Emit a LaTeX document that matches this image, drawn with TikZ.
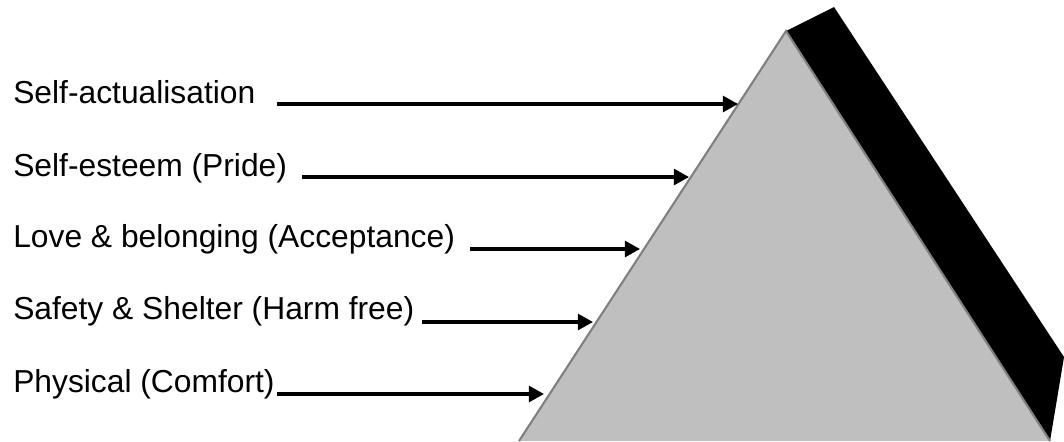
\documentclass[tikz,border=0pt]{standalone}
\usepackage{fontspec}
\setmainfont{Liberation Sans}
\usetikzlibrary{arrows.meta}
\begin{document}
\begin{tikzpicture}[x=0.025cm,y=-0.025cm,
  level/.style={anchor=base west,inner sep=0pt,font=\fontsize{22.6}{27}\selectfont},
  pointer/.style={line width=2.2pt,-{Triangle[length=0.38cm,width=0.4cm]}}]
  \useasboundingbox (0,0) rectangle (1064,441);
  \clip (0,0) rectangle (1064,441);
  \fill[black] (786,31) -- (834,7) -- (1064,357) -- (1050,441) -- cycle;
  \filldraw[fill=black!25,draw=black!50,line width=1.5pt] (519,441) -- (786,31) -- (1050,441);
  \node[level] (selfact) at (13,103) {Self-actualisation};
  \node[level] (esteem) at (13,176) {Self-esteem (Pride)};
  \node[level] (love) at (13,247) {Love \& belonging (Acceptance)};
  \node[level] (safety) at (13,319) {Safety \& Shelter (Harm free)};
  \node[level] (physical) at (13,392) {Physical (Comfort)};
  \foreach \n/\s/\t/\y in {1/277/738/104,2/302/689/177,3/470/640/249,4/422/593/322,5/277/544/394}{
    \coordinate (from\n) at (\s,\y);
    \coordinate (to\n) at (\t,\y);
    \draw[pointer] (from\n) -- (to\n);
  }
\end{tikzpicture}
\end{document}
